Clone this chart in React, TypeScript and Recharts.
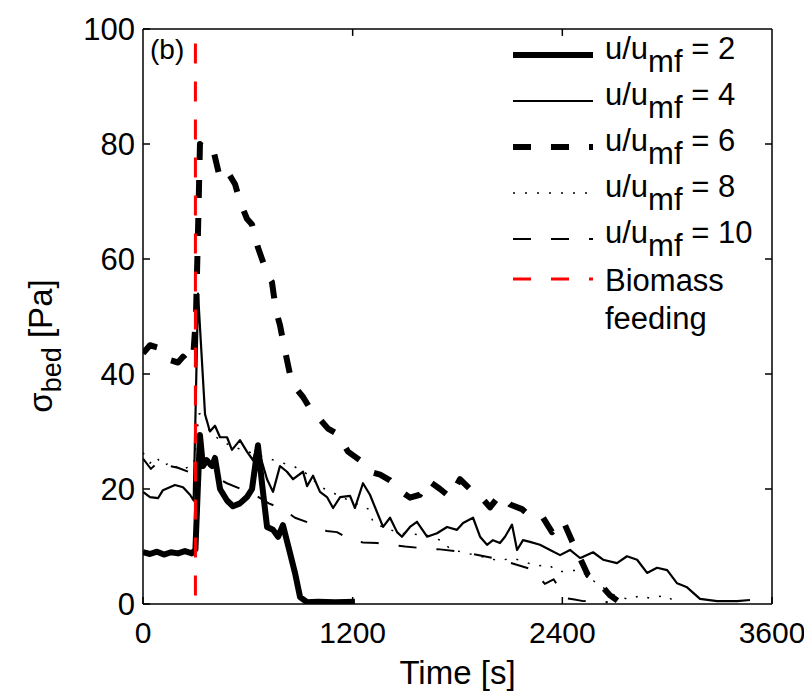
import { Legend, Line, LineChart, ReferenceLine, XAxis, YAxis } from 'recharts'

const FONT = '"Liberation Sans", Arial, Helvetica, sans-serif'

// time [s] and bed stress [Pa] per velocity ratio
const u2Time = [0, 40, 80, 120, 160, 200, 240, 280, 300, 326, 343, 365, 395, 412, 441, 481, 515, 555, 595, 624, 658, 681, 710, 744, 773, 801, 841, 870, 899, 939, 1000, 1100, 1213]
const u2Value = [9, 8.7, 9.1, 8.6, 9, 8.8, 9.2, 8.8, 9.5, 29.4, 24, 25, 24, 25.4, 20, 18, 17, 17.5, 18.6, 20, 27.6, 21, 13.4, 12.9, 11.7, 13.7, 8.9, 5.4, 1.2, 0.3, 0.4, 0.3, 0.4]

const u4Time = [0, 40, 86, 114, 183, 229, 269, 290, 315, 355, 383, 412, 441, 481, 509, 555, 595, 630, 653, 710, 744, 784, 824, 859, 916, 939, 973, 1013, 1053, 1088, 1128, 1185, 1213, 1259, 1299, 1339, 1374, 1414, 1454, 1482, 1528, 1568, 1626, 1683, 1740, 1797, 1832, 1889, 1929, 1969, 2003, 2043, 2072, 2112, 2141, 2175, 2215, 2272, 2330, 2387, 2444, 2501, 2519, 2576, 2633, 2713, 2770, 2828, 2885, 2942, 3000, 3057, 3114, 3188, 3286, 3400, 3474]
const u4Value = [19.5, 18.6, 18.4, 19.8, 20.7, 20.3, 19, 18, 54, 33, 30, 31, 29, 29, 26.8, 28.5, 26.5, 25, 27.6, 21.7, 19.5, 24, 23, 21.7, 23, 20.5, 22.3, 19.5, 18.6, 16.7, 18.6, 18.8, 16.7, 21, 19, 16, 13.4, 15, 12.5, 11.7, 13.4, 14.3, 11.7, 12.3, 13.4, 12.9, 14.1, 15, 11.7, 10.3, 11.1, 10.6, 11.7, 13.8, 9.4, 11.1, 10.8, 10.3, 9.4, 8.5, 9.4, 8, 8.2, 9, 7.7, 7.1, 8.3, 7.7, 5.4, 6.3, 5.9, 3.6, 2.9, 0.9, 0.5, 0.5, 0.7]

const u6Time = [0, 40, 97, 126, 155, 200, 229, 258, 286, 303, 315, 326, 355, 383, 406, 441, 487, 527, 555, 595, 624, 658, 681, 716, 738, 761, 784, 813, 841, 876, 916, 956, 1002, 1059, 1116, 1173, 1242, 1299, 1357, 1414, 1471, 1528, 1585, 1631, 1700, 1757, 1814, 1872, 1929, 1986, 2043, 2101, 2169, 2227, 2290, 2341, 2404, 2455, 2501, 2547, 2616, 2673, 2719, 2800]
const u6Value = [43.6, 45, 44.5, 43.8, 42.4, 42, 43, 42, 42.5, 50, 65, 80, 79, 78, 78.5, 74, 75, 73, 70, 67, 66, 62, 60, 57, 56, 51, 48.5, 44, 40, 37.5, 36, 34, 32.5, 30.5, 29.5, 26.5, 25, 23, 22.5, 21.5, 19.7, 18.5, 19, 21.5, 20, 18.6, 21.7, 20, 18.8, 16.8, 19, 17.3, 16.5, 15, 15, 12.5, 14.5, 11, 8, 5, 3.5, 1.5, 0.5, 0.3]

const u8Time = [0, 40, 75, 115, 160, 210, 260, 290, 320, 350, 380, 420, 500, 600, 700, 780, 860, 930, 1020, 1090, 1130, 1290, 1320, 1470, 1620, 1710, 1760, 1900, 2040, 2110, 2180, 2250, 2320, 2380, 2450, 2500, 2580, 2650, 2700, 2780, 2850, 2900, 2990, 3050]
const u8Value = [26.3, 24.5, 25.6, 24, 24.7, 23.3, 23.8, 24, 33, 33.5, 30, 29, 27.5, 26.5, 25.5, 24.7, 24, 22.8, 20.3, 19.3, 18.7, 16.5, 14, 12.3, 12, 11, 9.5, 8.5, 7.5, 8, 7.4, 6.6, 6.8, 5.6, 5.8, 5.9, 4, 2.5, 1.5, 0.8, 1.5, 1, 1.5, 0.3]

const u10Time = [0, 45, 100, 150, 200, 260, 295, 320, 360, 420, 480, 560, 640, 720, 800, 870, 960, 1050, 1110, 1200, 1260, 1340, 1420, 1500, 1600, 1700, 1840, 2000, 2120, 2230, 2300, 2350, 2420, 2470, 2520, 2600, 2660]
const u10Value = [25.3, 23.5, 25, 24, 23.7, 23, 24, 26, 25, 22, 21, 20, 19, 17.5, 16.5, 15, 14, 12.7, 12.5, 11, 10.7, 10.6, 10.3, 10, 9.7, 9.5, 9, 8, 7, 6, 3.5, 4.3, 1, 0.8, 0.5, 0.6, 0.3]

const feedTime = 300
const xTicks = [0, 1200, 2400, 3600]
const yTicks = [0, 20, 40, 60, 80, 100]

const toPoints = (t: number[], v: number[]) => t.map((x, i) => ({ t: x, v: v[i] }))

const series = [
  { ratio: '2', data: toPoints(u2Time, u2Value), width: 6, dash: undefined },
  { ratio: '4', data: toPoints(u4Time, u4Value), width: 2.2, dash: undefined },
  { ratio: '6', data: toPoints(u6Time, u6Value), width: 6, dash: '18 20' },
  { ratio: '8', data: toPoints(u8Time, u8Value), width: 1.5, dash: '2 10' },
  { ratio: '10', data: toPoints(u10Time, u10Value), width: 2, dash: '18 20' },
]

function LegendBox() {
  return (
    <div style={{ fontFamily: FONT, fontSize: 31, color: '#000', lineHeight: 1 }}>
      {series.map((s) => (
        <div key={s.ratio} style={{ display: 'flex', alignItems: 'center', height: 46 }}>
          <svg width={98} height={20}>
            <line x1={6} x2={86} y1={10} y2={10} stroke="#000" strokeWidth={s.width} strokeDasharray={s.dash} />
          </svg>
          <span>
            u/u<sub style={{ fontSize: 31, verticalAlign: -13 }}>mf</sub> = {s.ratio}
          </span>
        </div>
      ))}
      <div style={{ display: 'flex', alignItems: 'flex-start' }}>
        <svg width={98} height={34}>
          <line x1={6} x2={86} y1={17} y2={17} stroke="#ff0000" strokeWidth={3} strokeDasharray="18 20" />
        </svg>
        <span style={{ lineHeight: '38px' }}>
          Biomass
          <br />
          feeding
        </span>
      </div>
    </div>
  )
}

function YLabel() {
  return (
    <text transform="translate(44,338) rotate(-90)" textAnchor="middle" fontFamily={FONT} fontSize={33} fill="#000">
      σ
      <tspan dy={9} fontSize={27}>bed</tspan>
      <tspan dy={-9}> [Pa]</tspan>
    </text>
  )
}

export default function App() {
  return (
    <div style={{ position: 'relative', width: 804, height: 686, background: '#fff' }}>
      <LineChart width={804} height={686} margin={{ top: 21, right: 40, bottom: 0, left: 0 }}>
        <XAxis
          type="number"
          dataKey="t"
          domain={[0, 3600]}
          ticks={xTicks}
          allowDataOverflow
          height={90}
          stroke="#000"
          strokeWidth={1.5}
          tickSize={-7}
          tickMargin={25}
          tick={{ fill: '#000', fontSize: 30, fontFamily: FONT }}
          label={{ value: 'Time [s]', position: 'insideBottom', offset: 10, fill: '#000', fontSize: 33, fontFamily: FONT }}
        />
        <YAxis
          type="number"
          domain={[0, 100]}
          ticks={yTicks}
          allowDataOverflow
          width={135}
          stroke="#000"
          strokeWidth={1.5}
          tickSize={-7}
          tickMargin={15}
          tick={{ fill: '#000', fontSize: 31, fontFamily: FONT }}
          label={{ content: () => <YLabel /> }}
        />
        <ReferenceLine y={100} stroke="#000" strokeWidth={1.5} />
        <ReferenceLine x={3600} stroke="#000" strokeWidth={1.5} />
        {xTicks.slice(1, -1).map((t) => (
          <ReferenceLine key={'tx' + t} segment={[{ x: t, y: 100 }, { x: t, y: 98.8 }]} stroke="#000" strokeWidth={1.5} />
        ))}
        {yTicks.slice(1, -1).map((v) => (
          <ReferenceLine key={'ty' + v} segment={[{ x: 3600, y: v }, { x: 3560, y: v }]} stroke="#000" strokeWidth={1.5} />
        ))}
        {series.map((s) => (
          <Line
            key={s.ratio}
            data={s.data}
            dataKey="v"
            type="linear"
            stroke="#000"
            strokeWidth={s.width}
            strokeDasharray={s.dash}
            strokeLinejoin="round"
            dot={false}
            activeDot={false}
            isAnimationActive={false}
          />
        ))}
        <ReferenceLine
          segment={[{ x: feedTime, y: 97.5 }, { x: feedTime, y: 0 }]}
          stroke="#ff0000"
          strokeWidth={3}
          strokeDasharray="20 18"
        />
        <Legend
          layout="vertical"
          align="center"
          verticalAlign="middle"
          wrapperStyle={{ top: 24, left: 499, width: 290 }}
          content={() => <LegendBox />}
        />
      </LineChart>
      <div style={{ position: 'absolute', left: 142, top: 26, fontFamily: FONT, fontSize: 28 }}>(b)</div>
    </div>
  )
}
